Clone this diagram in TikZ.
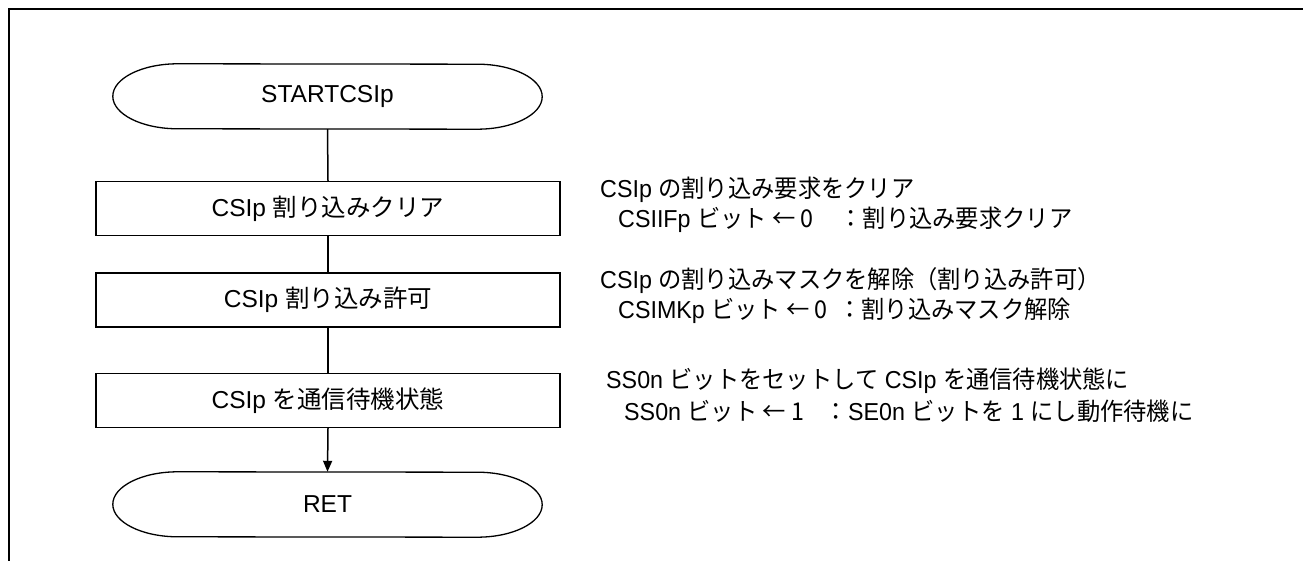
\documentclass[tikz,border=0pt]{standalone}
\usepackage{fontspec}
\setmainfont{Liberation Sans}
\newfontfamily\cjk{Noto Sans CJK JP}
\usetikzlibrary{arrows.meta}
\tikzset{
  box/.style={draw, line width=1.3pt, minimum width=464pt, minimum height=54pt, inner sep=0pt, font=\fontsize{24.5}{28}\selectfont},
  term/.style={minimum width=299pt, minimum height=65pt, inner sep=0pt, font=\fontsize{24.5}{28}\selectfont},
  termline/.style={line width=1.3pt},
  flow/.style={line width=1.5pt},
  note/.style={anchor=west, inner sep=0pt, font=\fontsize{24.5}{28}\selectfont},
}
\newcommand{\nt}[1]{\scalebox{0.95}[1]{#1}}
\begin{document}
\begin{tikzpicture}[x=1pt,y=1pt]
\useasboundingbox (0,0) rectangle (1303,561);
\fill[white] (0,0) rectangle (1303,561);
\draw[line width=2.6pt] (9,0) -- (9,552) -- (1303,552);

\node[term] (start) at (327.5,464.5) {STARTCSIp};
\draw[termline] (start.north west) arc[start angle=90, end angle=270, x radius=65pt, y radius=32.5pt] -- (start.south east) arc[start angle=-90, end angle=90, x radius=65pt, y radius=32.5pt] -- cycle;

\node[box] (b1) at (328,352.5) {CSIp {\cjk 割り込みクリア}};
\node[box] (b2) at (328,261) {CSIp {\cjk 割り込み許可}};
\node[box] (b3) at (328,160.5) {CSIp {\cjk を通信待機状態}};

\node[term] (ret) at (327.5,56.5) {RET};
\draw[termline] (ret.north west) arc[start angle=90, end angle=270, x radius=65pt, y radius=32.5pt] -- (ret.south east) arc[start angle=-90, end angle=90, x radius=65pt, y radius=32.5pt] -- cycle;

\draw[flow] (start.south) -- (b1.north);
\draw[flow] (b1.south) -- (b2.north);
\draw[flow] (b2.south) -- (b3.north);
\draw[flow, -{Triangle[length=11pt, width=9pt]}] (b3.south) -- (ret.north);

\node[note] (a1) at (600,371) {\nt{CSIp {\cjk の割り込み要求をクリア}}};
\node[note] (a2) at (618,341) {\nt{CSIIFp {\cjk ビット\ ←\ 0\ \ \ \ \ ：割り込み要求クリア}}};
\node[note] (c1n) at (600,280) {\nt{CSIp {\cjk の割り込みマスクを解除（割り込み許可）}}};
\node[note] (c2n) at (618,250) {\nt{CSIMKp {\cjk ビット\ ←\ 0\ \ ：割り込みマスク解除}}};
\node[note] (d1) at (606,180) {\nt{SS0n {\cjk ビットをセットして} CSIp {\cjk を通信待機状態に}}};
\node[note] (d2) at (624,150) {\nt{SS0n {\cjk ビット\ ←\ 1\ \ \ \ ：}SE0n {\cjk ビットを} 1 {\cjk にし動作待機に}}};
\end{tikzpicture}
\end{document}
